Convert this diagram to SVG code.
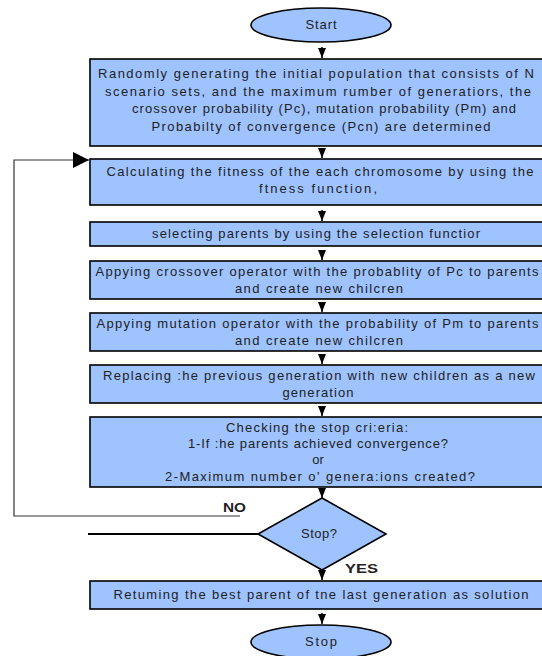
<svg xmlns="http://www.w3.org/2000/svg" width="542" height="656" viewBox="0 0 542 656">
<defs>
<style>
.box{fill:#9ec3ff;stroke:#000;stroke-width:1.6}
.t{font-family:"Liberation Sans",Arial,sans-serif;font-size:13px;fill:#222;text-anchor:middle}
.lbl{font-family:"Liberation Sans",Arial,sans-serif;font-size:12px;font-weight:bold;fill:#222}
.c{stroke:#000;stroke-width:1.5;fill:none}
</style>
<marker id="ah" viewBox="0 0 10 8" refX="10" refY="4" markerWidth="10" markerHeight="8" markerUnits="userSpaceOnUse" orient="auto">
<path d="M0,0 L10,4 L0,8 Z" fill="#000"/>
</marker>
<marker id="ahl" viewBox="0 0 16 16" refX="16" refY="8" markerWidth="16" markerHeight="16" markerUnits="userSpaceOnUse" orient="auto">
<path d="M0,0 L16,8 L0,16 Z" fill="#000"/>
</marker>
</defs>
<rect width="542" height="656" fill="#fff"/>
<g id="connectors">
<line class="c" x1="322" y1="47" x2="322" y2="58" marker-end="url(#ah)"/>
<line class="c" x1="322" y1="149" x2="322" y2="158" marker-end="url(#ah)"/>
<line class="c" x1="322" y1="210" x2="322" y2="221" marker-end="url(#ah)"/>
<line class="c" x1="322" y1="251" x2="322" y2="260" marker-end="url(#ah)"/>
<line class="c" x1="322" y1="303" x2="322" y2="312" marker-end="url(#ah)"/>
<line class="c" x1="322" y1="355" x2="322" y2="364" marker-end="url(#ah)"/>
<line class="c" x1="322" y1="407" x2="322" y2="416" marker-end="url(#ah)"/>
<line class="c" x1="322" y1="489" x2="322" y2="498" marker-end="url(#ah)"/>
<line class="c" x1="322" y1="572" x2="322" y2="580" marker-end="url(#ah)"/>
<line class="c" x1="322" y1="613" x2="322" y2="624" marker-end="url(#ah)"/>
<polyline points="240,516 14,516 14,160 89,160" fill="none" stroke="#333" stroke-width="1.2" marker-end="url(#ahl)"/>
<line x1="88" y1="534" x2="258" y2="534" stroke="#000" stroke-width="2"/>
<text class="lbl" x="223" y="512" textLength="23" lengthAdjust="spacingAndGlyphs">NO</text>
<text class="lbl" x="345" y="573" textLength="33" lengthAdjust="spacingAndGlyphs">YES</text>
</g>
<g id="start">
<ellipse class="box" cx="321" cy="25" rx="70" ry="17"/>
<text class="t" x="321" y="29" textLength="31">Start</text>
</g>
<g id="init">
<rect class="box" x="90" y="59" width="470" height="87"/>
<text class="t" x="316" y="78" textLength="436" lengthAdjust="spacing">Randomly generating the initial population that consists of N</text>
<text class="t" x="318" y="95.5" textLength="426" lengthAdjust="spacing">scenario sets, and the maximum rumber of generatiors, the</text>
<text class="t" x="324" y="113" textLength="384" lengthAdjust="spacing">crossover probability (Pc), mutation probability (Pm) and</text>
<text class="t" x="321" y="130.5" textLength="339" lengthAdjust="spacing">Probabilty of convergence (Pcn) are determined</text>
</g>
<g id="fitness">
<rect class="box" x="90" y="159" width="470" height="46"/>
<text class="t" x="320" y="176" textLength="427" lengthAdjust="spacing">Calculating the fitness of the each chromosome by using the</text>
<text class="t" x="318" y="193" textLength="118" lengthAdjust="spacing">ftness function,</text>
</g>
<g id="select">
<rect class="box" x="90" y="222" width="470" height="24"/>
<text class="t" x="316" y="238" textLength="328" lengthAdjust="spacing">selecting parents by using the selection functior</text>
</g>
<g id="crossover">
<rect class="box" x="90" y="261" width="470" height="38"/>
<text class="t" x="317" y="276" textLength="443" lengthAdjust="spacing">Appying crossover operator with the probablity of Pc to parents</text>
<text class="t" x="319" y="293" textLength="168" lengthAdjust="spacing">and create new chilcren</text>
</g>
<g id="mutation">
<rect class="box" x="90" y="313" width="470" height="38"/>
<text class="t" x="317.5" y="328" textLength="442" lengthAdjust="spacing">Appying mutation operator with the probability of Pm to parents</text>
<text class="t" x="319" y="345" textLength="168" lengthAdjust="spacing">and create new chilcren</text>
</g>
<g id="replace">
<rect class="box" x="90" y="365" width="470" height="38"/>
<text class="t" x="319" y="380" textLength="432" lengthAdjust="spacing">Replacing :he previous generation with new children as a new</text>
<text class="t" x="318" y="397" textLength="71" lengthAdjust="spacing">generation</text>
</g>
<g id="check">
<rect class="box" x="90" y="417" width="470" height="70"/>
<text class="t" x="317" y="432" textLength="182" lengthAdjust="spacing">Checking the stop cri:eria:</text>
<text class="t" x="318" y="448" textLength="260" lengthAdjust="spacing">1-If :he parents achieved convergence?</text>
<text class="t" x="318" y="464">or</text>
<text class="t" x="320" y="481" textLength="310" lengthAdjust="spacing">2-Maximum number o' genera:ions created?</text>
</g>
<g id="decision">
<polygon class="box" points="322,498 386,534 322,570 258,534"/>
<text class="t" x="319" y="538" textLength="36">Stop?</text>
</g>
<g id="return">
<rect class="box" x="90" y="581" width="470" height="28"/>
<text class="t" x="321" y="599" textLength="415" lengthAdjust="spacing">Retuming the best parent of tne last generation as solution</text>
</g>
<g id="stop">
<ellipse class="box" cx="321" cy="642" rx="70" ry="17"/>
<text class="t" x="321" y="646" textLength="32">Stop</text>
</g>
</svg>
